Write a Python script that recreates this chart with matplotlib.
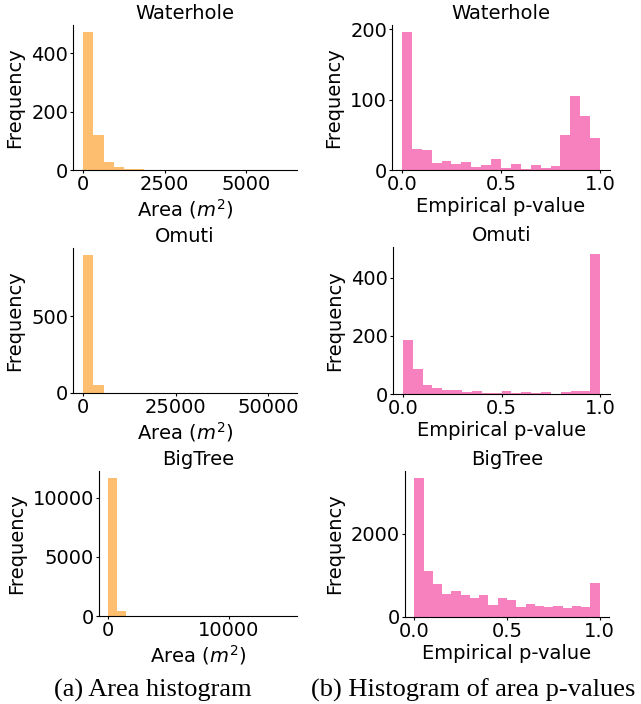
import matplotlib
matplotlib.use("Agg")
import matplotlib.pyplot as plt
import numpy as np

plt.rcParams['font.size'] = 14
plt.rcParams['axes.titlesize'] = 14
plt.rcParams['xtick.major.size'] = 2
plt.rcParams['ytick.major.size'] = 2
plt.rcParams['xtick.major.pad'] = 1.5
plt.rcParams['ytick.major.pad'] = 1.5

orange = '#fdbf6f'
pink = '#f781bf'

sites = ['Waterhole', 'Omuti', 'BigTree']

# area histograms: bin range and counts (20 bins)
area_range = [(0, 6250), (0, 55000), (0, 14900)]
area_counts = [
    [474, 120, 28, 11, 4, 2, 1, 1, 0, 1, 0, 0, 0, 0, 0, 0, 0, 0, 0, 1],
    [898, 50, 3, 2, 2, 1, 0, 0, 0, 0, 0, 1, 0, 1, 0, 0, 0, 0, 0, 1],
    [11680, 420, 40, 20, 10, 8, 12, 3, 2, 2, 1, 1, 1, 0, 1, 0, 0, 0, 0, 1],
]
area_xticks = [[0, 2500, 5000], [0, 25000, 50000], [0, 10000]]
area_yticks = [[0, 200, 400], [0, 500], [0, 5000, 10000]]

# p-value histograms over [0, 1] (20 bins)
pval_counts = [
    [196, 30, 28, 10, 13, 9, 12, 4, 7, 16, 3, 9, 1, 7, 3, 6, 50, 105, 76, 46],
    [186, 86, 30, 22, 15, 15, 8, 11, 5, 5, 11, 5, 8, 5, 8, 1, 8, 11, 11, 481],
    [3344, 1107, 798, 561, 632, 537, 466, 537, 300, 466, 419, 229, 324, 253,
     229, 253, 206, 253, 229, 822],
]
pval_yticks = [[0, 100, 200], [0, 200, 400], [0, 2000]]

W, H = 641, 704
fig = plt.figure(figsize=(W / 100, H / 100), dpi=100)

# axes boxes in pixels: (left, top, right, bottom)
left_boxes = [(73, 25, 297, 170), (73, 248, 297, 393), (99, 471, 297, 616)]
right_boxes = [(392, 25, 610, 170), (393, 247, 610, 394), (405, 471, 609, 617)]


def make_ax(box):
    x1, y1, x2, y2 = box
    ax = fig.add_axes([x1 / W, 1 - y2 / H, (x2 - x1) / W, (y2 - y1) / H])
    ax.spines['top'].set_visible(False)
    ax.spines['right'].set_visible(False)
    return ax


for i, site in enumerate(sites):
    # area
    ax = make_ax(left_boxes[i])
    edges = np.linspace(area_range[i][0], area_range[i][1], 21)
    ax.hist(edges[:-1], bins=edges, weights=area_counts[i], color=orange)
    ax.set_xticks(area_xticks[i])
    ax.set_yticks(area_yticks[i])
    ax.set_title(site, pad=4)
    ax.set_xlabel('Area ($m^2$)', labelpad=2)
    ax.set_ylabel('Frequency', labelpad=5)

    # p-values
    ax = make_ax(right_boxes[i])
    edges = np.linspace(0, 1, 21)
    ax.hist(edges[:-1], bins=edges, weights=pval_counts[i], color=pink)
    ax.set_xticks([0.0, 0.5, 1.0])
    ax.set_yticks(pval_yticks[i])
    ax.set_title(site, pad=4)
    ax.set_xlabel('Empirical p-value', labelpad=2)
    ax.set_ylabel('Frequency', labelpad=5)

fig.text(153 / W, 1 - 690 / H, '(a) Area histogram', family='Liberation Serif',
         fontsize=19, ha='center', va='center')
fig.text(473 / W, 1 - 690 / H, '(b) Histogram of area p-values',
         family='Liberation Serif', fontsize=19, ha='center', va='center')

fig.savefig('out.png', dpi=100)
